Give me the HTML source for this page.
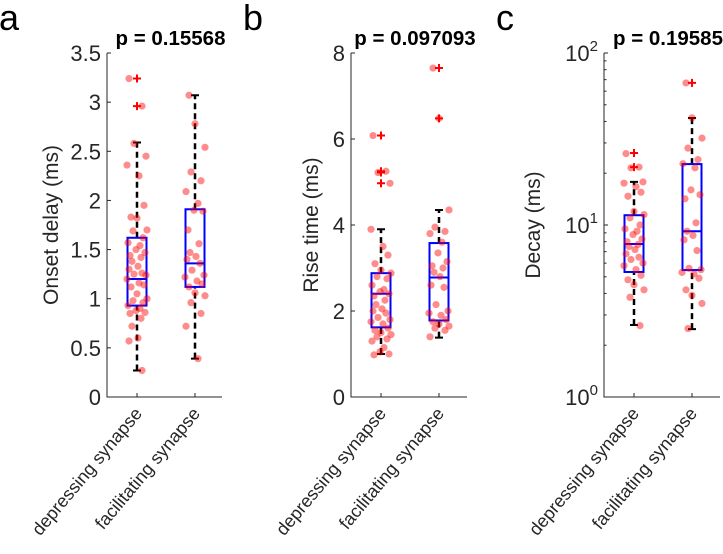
<!DOCTYPE html>
<html><head><meta charset="utf-8"><style>
body{margin:0;background:#fff}
svg{display:block;font-family:"Liberation Sans",Arial,sans-serif}
</style></head><body>
<svg id="c" width="723" height="554" xmlns="http://www.w3.org/2000/svg"></svg>
<script>
const categories = ["depressing synapse","facilitating synapse"];
const panelLetters = ["a","b","c"];
const pValues = ["p = 0.15568","p = 0.097093","p = 0.19585"];
const yTitles = ["Onset delay (ms)","Rise time (ms)","Decay (ms)"];
const ticksA = [0,0.5,1,1.5,2,2.5,3,3.5];
const ticksB = [0,2,4,6,8];
const ticksC = [1,10,100];
// box stats: [lowerWhisker, q1, median, q3, upperWhisker]
const boxA = [[0.27,0.93,1.2,1.62,2.59],[0.39,1.12,1.36,1.91,3.07]];
const boxB = [[1.0,1.62,2.4,2.88,3.9],[1.38,1.78,2.78,3.58,4.35]];
const boxC = [[2.62,5.33,7.76,11.4,17.8],[2.48,5.47,9.2,22.6,41.9]];
const outA = [[3.24,2.96],[]];
const outB = [[6.08,5.25,5.22,4.97],[7.65,6.48]];
const outC = [[26.2,21.7],[67]];
const ptsA = [[3.24,2.96,2.58,2.45,2.36,2.25,1.95,1.83,1.82,1.70,1.69,1.62,1.57,1.54,1.50,1.47,1.44,1.42,1.38,1.33,1.30,1.26,1.25,1.24,1.20,1.16,1.14,1.12,1.05,1.00,0.98,0.96,0.93,0.90,0.88,0.86,0.85,0.80,0.72,0.60,0.57,0.27],
 [3.07,2.78,2.54,2.29,2.20,2.09,1.97,1.90,1.89,1.70,1.56,1.47,1.43,1.40,1.36,1.29,1.24,1.22,1.18,1.15,1.12,1.06,1.03,0.96,0.85,0.72,0.39]];
const ptsB = [[6.08,5.25,5.22,4.97,3.9,3.5,3.3,3.1,2.95,2.88,2.8,2.75,2.6,2.5,2.45,2.4,2.35,2.25,2.15,2.05,2.0,1.95,1.85,1.8,1.75,1.7,1.6,1.55,1.5,1.45,1.4,1.35,1.3,1.15,1.05,1.0,0.98],
 [7.65,6.48,4.35,3.95,3.85,3.8,3.6,3.35,3.15,3.05,3.0,2.9,2.8,2.6,2.55,2.15,2.0,1.95,1.9,1.8,1.75,1.7,1.65,1.6,1.55,1.4]];
const ptsC = [[26,21.7,21.5,17.8,17.5,16.7,15.5,14.7,12,11.5,11,10,9.5,9.2,8.8,8.3,8,7.7,7.5,7.2,6.8,6.5,6.3,6,5.8,5.5,5.1,4.8,4.5,4.2,3.8,2.6],
 [67,42,32,28,24,22.7,21.5,16,15,14.2,10.3,9.2,8.7,8.2,7.1,5.6,5.5,5.3,5.2,4.9,4.2,3.9,3.5,2.5]];

const NS="http://www.w3.org/2000/svg";
const svg=document.getElementById('c');
function mk(tag,attrs,parent){const e=document.createElementNS(NS,tag);for(const k in attrs)e.setAttribute(k,attrs[k]);(parent||svg).appendChild(e);return e;}
const jit=[-8,5,-3,9,-10,2,7,-6,0,10,-4,6,-9,3,-1,8,-7,4,-5,1];
const TOP=53,BOT=397;
const panels=[
 {x0:107,x1:222,box:boxA,out:outA,pts:ptsA,ticks:ticksA,log:false,min:0,max:3.5,yl:58},
 {x0:351,x1:467,box:boxB,out:outB,pts:ptsB,ticks:ticksB,log:false,min:0,max:8,yl:318},
 {x0:604,x1:720,box:boxC,out:outC,pts:ptsC,ticks:ticksC,log:true,min:0,max:2,yl:540}
];
panels.forEach((p,pi)=>{
 const g=mk('g',{});
 
 
 const y=v=>p.log? BOT-(Math.log10(v)-p.min)/(p.max-p.min)*(BOT-TOP) : BOT-(v-p.min)/(p.max-p.min)*(BOT-TOP);
 const xc=i=>p.x0+30+i*58;
 const letter=mk('text',{x:p.x0-108,y:30,'font-size':36,fill:'#000'},g);letter.textContent=panelLetters[pi];
 
 const t=mk('text',{x:(p.x0+p.x1)/2+6,y:45,'font-size':20.5,'font-weight':'bold','text-anchor':'middle',fill:'#000'},g);t.textContent=pValues[pi];
 
 const ax=mk('path',{d:`M${p.x0},${TOP}V${BOT}H${p.x1}`,stroke:'#262626',fill:'none','stroke-width':1},g);
 
 p.ticks.forEach(v=>{
  const ty=y(v);
  mk('line',{x1:p.x0,x2:p.x0+4,y1:ty,y2:ty,stroke:'#262626'},g);
  const tl=mk('text',{x:p.x0-6,y:ty+8,'font-size':22,'text-anchor':'end',fill:'#262626'},g);
  
  if(p.log){tl.textContent='10';const e=Math.round(Math.log10(v));const s=mk('tspan',{dy:-10,'font-size':15},tl);s.textContent=e;}
  else tl.textContent=String(v);
 });
 if(p.log){for(let d=0;d<2;d++)for(let m=2;m<10;m++){const ty=y(m*Math.pow(10,d));mk('line',{x1:p.x0,x2:p.x0+2.5,y1:ty,y2:ty,stroke:'#262626'},g);}}
 const yt=mk('text',{transform:`translate(${p.yl},225) rotate(-90)`,'font-size':21,'text-anchor':'middle',fill:'#262626'},g);
 yt.textContent=yTitles[pi];
 categories.forEach((c,i)=>{
  const cx=xc(i);
  mk('line',{x1:cx,x2:cx,y1:BOT,y2:BOT-4,stroke:'#262626'},g);
  const xl=mk('text',{transform:`translate(${cx+6},${BOT+17}) rotate(-50)`,'font-size':18,'text-anchor':'end',fill:'#262626'},g);
  xl.textContent=c;
  const b=p.box[i];
  const wh=mk('path',{d:`M${cx},${y(b[0])}V${y(b[1])}M${cx},${y(b[3])}V${y(b[4])}`,stroke:'#000','stroke-width':2.5,'stroke-dasharray':'6,4',fill:'none'},g);
  
  mk('path',{d:`M${cx-4},${y(b[0])}H${cx+4}M${cx-4},${y(b[4])}H${cx+4}`,stroke:'#000','stroke-width':2},g);
  const bx=mk('rect',{x:cx-9.5,y:y(b[3]),width:19,height:y(b[1])-y(b[3]),fill:'none',stroke:'#0000ff','stroke-width':2},g);
  
  mk('line',{x1:cx-9.5,x2:cx+9.5,y1:y(b[2]),y2:y(b[2]),stroke:'#0000ff','stroke-width':2},g);
  p.out[i].forEach(v=>{const o=mk('path',{d:`M${cx-4},${y(v)}H${cx+4}M${cx},${y(v)-4}V${y(v)+4}`,stroke:'#ff0000','stroke-width':2},g);
   });
  p.pts[i].forEach((v,k)=>{const d=mk('circle',{cx:cx+jit[(k+i*7)%jit.length],cy:y(v),r:3.6,fill:'#ff0000','fill-opacity':0.45},g);
   });
 });
});
</script>
</body></html>
